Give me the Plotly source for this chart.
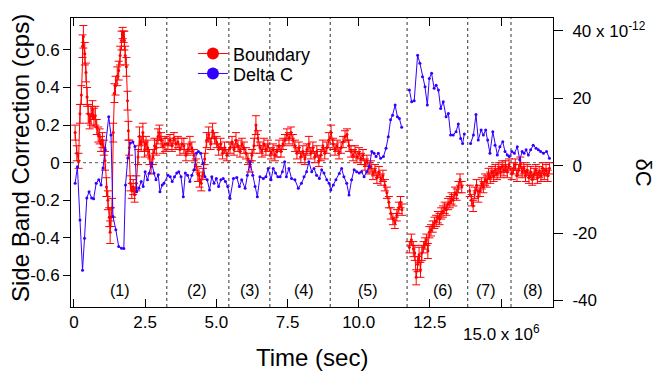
import plotly.graph_objects as go

# ---------------- data ----------------
# Boundary (left axis, cps): (time [1e6 s], value, error) per region
red_region1 = [
    (0.04, 0.16, 0.04), (0.10, 0.05, 0.04), (0.16, 0.01, 0.04), (0.21, 0.26, 0.05), (0.26, 0.36, 0.05),
    (0.30, 0.62, 0.06), (0.33, 0.67, 0.06), (0.38, 0.58, 0.06), (0.42, 0.48, 0.05), (0.46, 0.35, 0.05),
    (0.50, 0.26, 0.05), (0.55, 0.22, 0.04), (0.60, 0.25, 0.05), (0.65, 0.28, 0.05), (0.70, 0.24, 0.05),
    (0.75, 0.25, 0.05), (0.80, 0.19, 0.04), (0.85, 0.15, 0.04), (0.90, 0.14, 0.04), (0.95, 0.10, 0.04),
    (1.00, 0.12, 0.04), (1.05, 0.08, 0.04), (1.09, 0.01, 0.05), (1.14, -0.13, 0.05), (1.19, -0.20, 0.05),
    (1.24, -0.29, 0.05), (1.27, -0.37, 0.06), (1.30, -0.29, 0.05), (1.34, -0.24, 0.05), (1.38, 0.16, 0.05),
    (1.42, 0.37, 0.05), (1.46, 0.41, 0.05), (1.52, 0.46, 0.05), (1.57, 0.49, 0.05), (1.62, 0.57, 0.05),
    (1.67, 0.65, 0.05), (1.71, 0.69, 0.03), (1.74, 0.67, 0.03), (1.77, 0.65, 0.05), (1.80, 0.57, 0.05),
    (1.84, 0.51, 0.05), (1.88, 0.33, 0.05), (1.91, 0.17, 0.05), (1.94, 0.08, 0.04), (1.98, -0.11, 0.04),
    (2.03, -0.15, 0.04), (2.08, -0.13, 0.04), (2.13, -0.17, 0.04), (2.19, -0.11, 0.04), (2.25, 0.03, 0.04),
    (2.30, 0.14, 0.05), (2.36, 0.10, 0.04), (2.42, 0.16, 0.05), (2.48, 0.07, 0.04), (2.53, 0.10, 0.04),
    (2.59, 0.08, 0.04), (2.65, 0.03, 0.04), (2.71, -0.02, 0.04), (2.77, 0.03, 0.04), (2.83, 0.09, 0.04),
    (2.89, 0.08, 0.04), (2.95, 0.14, 0.04), (3.00, 0.16, 0.04), (3.06, 0.12, 0.04), (3.13, 0.09, 0.04),
    (3.20, 0.10, 0.04),
]
red_region2 = [
    (3.30, 0.10, 0.03), (3.37, 0.12, 0.03), (3.44, 0.09, 0.03), (3.51, 0.13, 0.03), (3.58, 0.10, 0.03),
    (3.65, 0.11, 0.03), (3.72, 0.07, 0.03), (3.79, 0.10, 0.03), (3.86, 0.09, 0.04), (3.93, 0.04, 0.03),
    (4.00, 0.07, 0.03), (4.07, 0.10, 0.04), (4.14, 0.08, 0.03), (4.21, 0.04, 0.03), (4.28, -0.01, 0.03),
    (4.35, -0.06, 0.04), (4.41, -0.09, 0.04), (4.47, -0.11, 0.04), (4.53, -0.06, 0.03), (4.59, 0.02, 0.03),
    (4.66, 0.12, 0.04), (4.73, 0.15, 0.04), (4.80, 0.10, 0.03), (4.87, 0.17, 0.04), (4.94, 0.13, 0.03),
    (5.01, 0.11, 0.03), (5.08, 0.07, 0.03), (5.15, 0.10, 0.03), (5.22, 0.05, 0.03), (5.29, 0.08, 0.03),
    (5.37, 0.04, 0.03),
]
red_region3 = [
    (5.48, 0.08, 0.03), (5.55, 0.11, 0.03), (5.62, 0.07, 0.03), (5.69, 0.12, 0.04), (5.76, 0.09, 0.03),
    (5.83, 0.06, 0.03), (5.90, 0.10, 0.03), (5.97, 0.08, 0.03), (6.04, 0.05, 0.03), (6.11, 0.02, 0.03),
    (6.18, -0.02, 0.03), (6.25, 0.04, 0.03), (6.32, 0.09, 0.04), (6.39, 0.20, 0.05), (6.46, 0.13, 0.04),
    (6.53, 0.08, 0.03), (6.60, 0.06, 0.03), (6.67, 0.10, 0.03), (6.74, 0.07, 0.03), (6.81, 0.09, 0.03),
]
red_region4 = [
    (6.92, 0.05, 0.03), (6.99, 0.07, 0.03), (7.06, 0.04, 0.03), (7.13, 0.06, 0.03), (7.20, 0.09, 0.03),
    (7.27, 0.06, 0.03), (7.34, 0.10, 0.03), (7.41, 0.12, 0.03), (7.48, 0.15, 0.03), (7.55, 0.13, 0.03),
    (7.62, 0.16, 0.03), (7.69, 0.12, 0.03), (7.76, 0.09, 0.03), (7.83, 0.05, 0.03), (7.90, 0.08, 0.03),
    (7.97, 0.03, 0.03), (8.04, 0.06, 0.03), (8.11, 0.02, 0.03), (8.18, 0.07, 0.03), (8.25, 0.10, 0.04),
    (8.32, 0.05, 0.03), (8.39, 0.08, 0.03), (8.46, 0.03, 0.03), (8.53, 0.06, 0.03), (8.60, 0.01, 0.03),
    (8.67, 0.04, 0.03), (8.74, 0.09, 0.03), (8.81, 0.05, 0.03), (8.88, 0.08, 0.03), (8.95, 0.12, 0.04),
]
red_region5 = [
    (9.03, 0.16, 0.04), (9.10, 0.10, 0.03), (9.17, 0.07, 0.03), (9.24, 0.09, 0.03), (9.31, 0.05, 0.03),
    (9.38, 0.08, 0.03), (9.45, 0.11, 0.03), (9.52, 0.14, 0.03), (9.59, 0.15, 0.03), (9.66, 0.09, 0.03),
    (9.73, 0.06, 0.03), (9.80, 0.04, 0.03), (9.87, 0.06, 0.03), (9.94, 0.03, 0.03), (10.01, 0.05, 0.03),
    (10.08, 0.02, 0.03), (10.15, 0.04, 0.03), (10.22, -0.01, 0.03), (10.29, 0.01, 0.03), (10.36, -0.03, 0.03),
    (10.43, -0.02, 0.03), (10.50, -0.06, 0.03), (10.57, -0.04, 0.03), (10.64, -0.08, 0.03), (10.71, -0.05, 0.03),
    (10.78, -0.09, 0.03), (10.85, -0.07, 0.03), (10.92, -0.12, 0.03), (10.99, -0.16, 0.03), (11.06, -0.21, 0.03),
    (11.13, -0.27, 0.03), (11.20, -0.30, 0.03), (11.27, -0.32, 0.03), (11.34, -0.28, 0.03), (11.41, -0.24, 0.03),
    (11.47, -0.21, 0.03), (11.52, -0.25, 0.03),
]
red_region6 = [
    (11.78, -0.45, 0.03), (11.85, -0.41, 0.03), (11.92, -0.46, 0.04), (11.97, -0.48, 0.04), (12.02, -0.61, 0.04),
    (12.07, -0.54, 0.04), (12.12, -0.49, 0.04), (12.17, -0.57, 0.04), (12.22, -0.48, 0.04), (12.28, -0.45, 0.03),
    (12.33, -0.43, 0.03), (12.38, -0.41, 0.03), (12.43, -0.47, 0.04), (12.48, -0.37, 0.03), (12.54, -0.36, 0.03),
    (12.60, -0.34, 0.03), (12.66, -0.32, 0.03), (12.72, -0.31, 0.03), (12.78, -0.29, 0.03), (12.84, -0.30, 0.03),
    (12.90, -0.27, 0.03), (12.96, -0.26, 0.03), (13.02, -0.24, 0.03), (13.08, -0.25, 0.03), (13.14, -0.22, 0.03),
    (13.20, -0.21, 0.03), (13.26, -0.19, 0.03), (13.32, -0.20, 0.03), (13.38, -0.16, 0.03), (13.44, -0.17, 0.03),
    (13.50, -0.13, 0.03), (13.56, -0.09, 0.03), (13.62, -0.13, 0.03),
]
red_region7 = [
    (13.90, -0.15, 0.03), (13.96, -0.20, 0.03), (14.02, -0.23, 0.03), (14.08, -0.16, 0.03), (14.14, -0.12, 0.03),
    (14.20, -0.18, 0.03), (14.26, -0.15, 0.03), (14.32, -0.11, 0.03), (14.38, -0.13, 0.03), (14.44, -0.09, 0.03),
    (14.50, -0.10, 0.03), (14.56, -0.06, 0.03), (14.62, -0.08, 0.03), (14.68, -0.05, 0.03), (14.74, -0.07, 0.03),
    (14.80, -0.04, 0.03), (14.86, -0.06, 0.03), (14.92, -0.03, 0.03), (14.98, -0.05, 0.03), (15.04, -0.02, 0.03),
    (15.10, -0.04, 0.03), (15.16, -0.02, 0.03), (15.22, -0.05, 0.03), (15.28, -0.01, 0.03),
]
red_region8 = [
    (15.38, -0.06, 0.03), (15.44, -0.03, 0.03), (15.50, -0.01, 0.03), (15.56, -0.07, 0.03), (15.62, -0.04, 0.03),
    (15.68, 0.00, 0.03), (15.74, -0.05, 0.03), (15.80, -0.03, 0.03), (15.86, -0.07, 0.03), (15.92, -0.04, 0.03),
    (15.98, -0.08, 0.03), (16.04, -0.05, 0.03), (16.10, -0.09, 0.03), (16.16, -0.06, 0.03), (16.22, -0.04, 0.03),
    (16.28, -0.08, 0.03), (16.34, -0.05, 0.03), (16.40, -0.07, 0.03), (16.46, -0.03, 0.03), (16.52, -0.06, 0.03),
    (16.58, -0.04, 0.03), (16.64, -0.07, 0.03), (16.70, -0.03, 0.03),
]

# Delta C (right axis, units of 1e-12): (time [1e6 s], value) per region
blue_region1 = [
    (0.04, -5.2), (0.12, -0.3), (0.21, -16.1), (0.30, -31.0), (0.37, -21.5), (0.45, -9.6), (0.53, -7.7),
    (0.62, -9.6), (0.69, -9.8), (0.78, -5.2), (0.87, -4.2), (0.95, -5.7), (1.02, -0.7), (1.10, 4.7),
    (1.22, 14.5), (1.30, 9.1), (1.37, -15.1), (1.47, -19.0), (1.57, -24.0), (1.67, -24.5), (1.75, -24.6),
    (1.81, -5.7), (1.89, 2.3), (1.98, 6.7), (2.07, 7.0), (2.14, 5.7), (2.20, -7.7), (2.28, -6.7),
    (2.36, -4.7), (2.43, -6.2), (2.50, -1.8), (2.58, -4.2), (2.65, -2.2), (2.73, 0.8), (2.81, -2.2),
    (2.88, -4.2), (2.96, -2.7), (3.02, -7.7), (3.10, -5.7), (3.16, -5.2),
]
blue_region2 = [
    (3.30, -2.8), (3.38, -3.3), (3.45, -4.7), (3.53, -3.3), (3.61, -2.2), (3.68, -1.8), (3.76, -3.3),
    (3.84, -9.2), (3.91, -2.2), (3.99, -2.8), (4.07, -4.7), (4.14, -2.8), (4.22, -1.2), (4.30, 3.7),
    (4.37, 4.2), (4.45, 3.7), (4.53, 0.8), (4.60, -3.3), (4.68, -4.2), (4.76, -7.2), (4.84, -3.3),
    (4.92, -5.2), (5.00, -3.8), (5.08, -6.2), (5.16, -4.2), (5.24, -3.8), (5.32, -4.7), (5.40, -6.2),
]
blue_region3 = [
    (5.48, -9.7), (5.60, -3.8), (5.72, -3.5), (5.81, -6.2), (5.89, -4.2), (6.01, -6.7), (6.09, -2.8),
    (6.18, 1.2), (6.28, -2.8), (6.36, -6.2), (6.44, -9.2), (6.53, -3.3), (6.65, -3.8), (6.74, -3.3),
    (6.82, -0.8),
]
blue_region4 = [
    (6.92, -4.2), (7.00, -0.8), (7.08, -2.2), (7.16, -3.3), (7.24, -3.3), (7.32, -1.8), (7.40, 1.2),
    (7.46, -3.3), (7.55, -0.8), (7.64, -3.8), (7.76, -4.2), (7.88, -6.7), (7.99, -5.2), (8.08, -3.3),
    (8.17, -1.8), (8.25, 1.2), (8.35, -1.8), (8.43, -0.8), (8.52, -2.8), (8.62, -3.8), (8.70, -1.2),
    (8.78, -2.2), (8.88, -4.2), (8.96, -5.2),
]
blue_region5 = [
    (9.02, -7.2), (9.11, -5.7), (9.20, -4.2), (9.32, -2.3), (9.40, -0.8), (9.48, -3.3), (9.58, -5.2),
    (9.66, -8.7), (9.75, -4.2), (9.84, -1.2), (9.93, -1.8), (10.02, -2.2), (10.10, -1.8), (10.19, -3.3),
    (10.28, -1.8), (10.37, -0.3), (10.46, 4.2), (10.54, 3.7), (10.61, 2.7), (10.69, 3.7), (10.77, 2.2),
    (10.87, 2.7), (10.96, 5.2), (11.04, 8.6), (11.12, 13.6), (11.19, 15.0), (11.28, 18.0), (11.36, 14.5),
    (11.43, 14.0), (11.51, 11.4),
]
blue_region6 = [
    (11.78, 22.5), (11.86, 19.0), (11.95, 19.3), (12.07, 32.8), (12.15, 30.4), (12.24, 26.4), (12.33, 23.4),
    (12.41, 18.0), (12.48, 25.9), (12.56, 27.4), (12.65, 23.0), (12.72, 23.9), (12.80, 22.5), (12.88, 17.0),
    (12.97, 19.0), (13.07, 14.5), (13.15, 15.5), (13.23, 9.1), (13.32, 9.1), (13.42, 10.1), (13.50, 12.4),
    (13.58, 8.1), (13.65, 6.6), (13.71, 9.4),
]
blue_region78 = [
    (13.93, 6.6), (14.03, 9.1), (14.12, 15.2), (14.20, 7.6), (14.30, 10.6), (14.38, 9.1), (14.46, 10.6),
    (14.53, 7.6), (14.61, 3.7), (14.71, 10.1), (14.79, 6.1), (14.87, 3.2), (14.96, 5.6), (15.06, 7.1),
    (15.14, 4.2), (15.22, 3.2), (15.29, 2.7), (15.38, 4.2), (15.47, 3.7), (15.57, 5.6), (15.66, 1.7),
    (15.74, 4.2), (15.81, 3.7), (15.88, 4.7), (15.96, 3.2), (16.04, 4.7), (16.13, 6.1), (16.23, 5.2),
    (16.31, 4.7), (16.39, 4.2), (16.49, 3.7), (16.60, 4.2), (16.70, 2.2),
]

# region boundaries (1e6 s) and region labels
region_bounds = [3.26, 5.44, 6.88, 9.00, 11.70, 13.83, 15.35]
region_label_x = [1.62, 4.31, 6.18, 8.09, 10.34, 12.95, 14.46, 16.11]
region_labels = ["(1)", "(2)", "(3)", "(4)", "(5)", "(6)", "(7)", "(8)"]

x_tickvals = [0, 2.5, 5.0, 7.5, 10.0, 12.5, 15.0]
x_ticktext = ["0", "2.5", "5.0", "7.5", "10.0", "12.5", ""]
y_tickvals = [-0.6, -0.4, -0.2, 0, 0.2, 0.4, 0.6]
y_ticktext = ["-0.6", "-0.4", "-0.2", "0", "0.2", "0.4", "0.6"]
y2_tickvals = [-40, -20, 0, 20, 40]
y2_ticktext = ["-40", "-20", "0", "20", "40 x 10<sup>-12</sup>"]

# ---------------- build series with gaps ----------------
def join(segments, ncols):
    cols = [[] for _ in range(ncols)]
    for i, seg in enumerate(segments):
        if i > 0:
            for c in range(ncols):
                cols[c].append(None if c < 2 else 0)
        for row in seg:
            for c in range(ncols):
                cols[c].append(row[c])
    return cols

red_t, red_v, red_e = join(
    [red_region1 + red_region2 + red_region3 + red_region4 + red_region5,
     red_region6, red_region7 + red_region8], 3)
blue_t, blue_v = join(
    [blue_region1 + blue_region2 + blue_region3 + blue_region4 + blue_region5,
     blue_region6, blue_region78], 2)

FONT = "Liberation Sans, Arial, sans-serif"
RED = "#ff0000"
BLUE = "#3300ff"

fig = go.Figure()
fig.add_trace(go.Scatter(
    x=red_t, y=red_v, name="Boundary", mode="lines+markers", showlegend=False,
    line=dict(color=RED, width=1), marker=dict(color=RED, size=3),
    error_y=dict(type="data", array=red_e, color=RED, thickness=1, width=4),
    connectgaps=False, yaxis="y"))
fig.add_trace(go.Scatter(
    x=blue_t, y=blue_v, name="Delta C", mode="lines+markers", showlegend=False,
    line=dict(color=BLUE, width=1), marker=dict(color=BLUE, size=3),
    connectgaps=False, yaxis="y2"))
# legend entries (large circle symbols as in the reference)
fig.add_trace(go.Scatter(
    x=[None], y=[None], name="Boundary", mode="lines+markers", legend="legend",
    line=dict(color=RED, width=1), marker=dict(color=RED, size=12)))
fig.add_trace(go.Scatter(
    x=[None], y=[None], name="Delta C", mode="lines+markers", legend="legend2",
    line=dict(color=BLUE, width=1), marker=dict(color=BLUE, size=12), yaxis="y2"))

shapes = [dict(type="line", xref="paper", x0=0, x1=1, yref="y", y0=0, y1=0,
               line=dict(color="#555", width=1, dash="dot"), layer="below")]
for b in region_bounds:
    shapes.append(dict(type="line", xref="x", x0=b, x1=b, yref="paper", y0=0, y1=1,
                       line=dict(color="#333", width=1, dash="dot"), layer="below"))

annotations = []
for lx, lt in zip(region_label_x, region_labels):
    annotations.append(dict(x=lx, xref="x", y=0.058, yref="paper", text=lt, showarrow=False,
                            font=dict(family=FONT, size=16, color="black"),
                            xanchor="center", yanchor="middle"))
annotations.append(dict(x=15.0, xref="x", y=-0.045, yref="paper",
                        text="15.0 x 10<sup>6</sup>", showarrow=False,
                        font=dict(family=FONT, size=17, color="black"),
                        xanchor="center", yanchor="top"))
annotations.append(dict(x=(643 - 71) / 482.0, xref="paper", y=0.465, yref="paper", text="δC",
                        showarrow=False, textangle=90,
                        font=dict(family=FONT, size=22, color="black"),
                        xanchor="center", yanchor="middle"))
# axis titles
annotations.append(dict(x=0.5, xref="paper", y=(307 - 357) / 289.0, yref="paper",
                        text="Time (sec)", showarrow=False,
                        font=dict(family=FONT, size=24, color="black"),
                        xanchor="center", yanchor="middle"))
annotations.append(dict(x=(20 - 71) / 482.0, xref="paper", y=(307 - 158) / 289.0, yref="paper",
                        text="Side Band Correction (cps)", showarrow=False, textangle=-90,
                        font=dict(family=FONT, size=24, color="black"),
                        xanchor="center", yanchor="middle"))

legend_common = dict(xanchor="left", yanchor="top", bgcolor="rgba(0,0,0,0)", borderwidth=0,
                     itemsizing="trace", font=dict(family=FONT, size=18, color="black"))

fig.update_layout(
    width=668, height=371,
    margin=dict(l=71, r=115, t=18, b=64),
    paper_bgcolor="white", plot_bgcolor="white",
    font=dict(family=FONT, size=17, color="black"),
    showlegend=True,
    legend=dict(x=0.253, y=0.94, **legend_common),
    legend2=dict(x=0.253, y=0.871, **legend_common),
    xaxis=dict(range=[-0.105, 16.825], tickvals=x_tickvals, ticktext=x_ticktext,
               ticks="inside", ticklen=8, tickcolor="black", showline=True, linecolor="black",
               linewidth=1, mirror="ticks", showgrid=False, zeroline=False, automargin=False,
               tickfont=dict(family=FONT, size=17)),
    yaxis=dict(range=[-0.768, 0.77], tickvals=y_tickvals, ticktext=y_ticktext,
               ticks="outside", ticklen=7, tickcolor="black", showline=True, linecolor="black",
               linewidth=1, showgrid=False, zeroline=False, automargin=False,
               tickfont=dict(family=FONT, size=17)),
    yaxis2=dict(range=[-41.93, 43.83], tickvals=y2_tickvals, ticktext=y2_ticktext,
                overlaying="y", side="right",
                ticks="outside", ticklen=9, tickcolor="black", showline=True, linecolor="black",
                linewidth=1, showgrid=False, zeroline=False, ticklabelstandoff=6, automargin=False,
                tickfont=dict(family=FONT, size=17)),
    shapes=shapes, annotations=annotations,
)

fig.write_html("out.html")
